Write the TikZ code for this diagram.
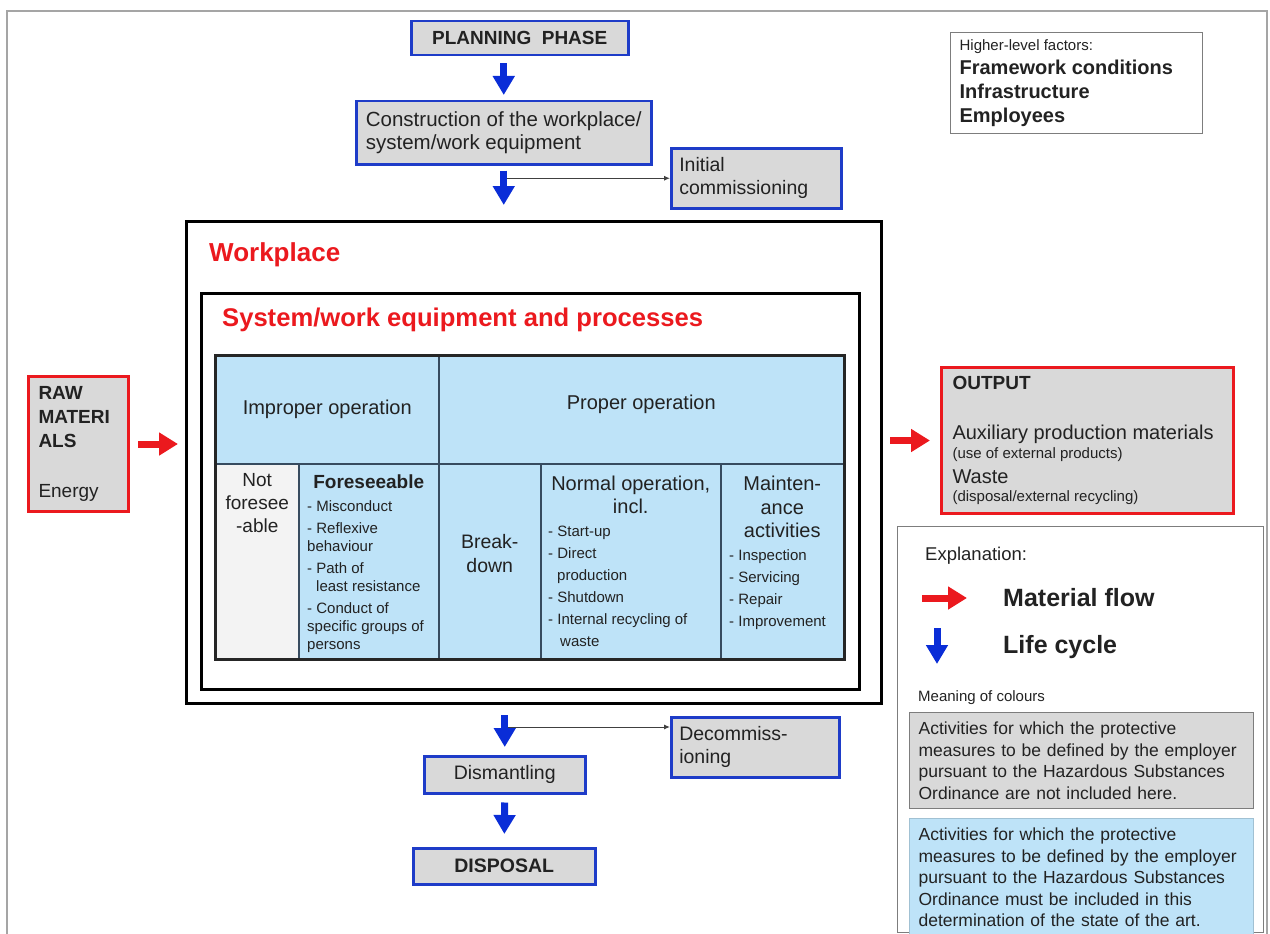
\documentclass[tikz,border=0pt]{standalone}
\usepackage{fontspec}
\setmainfont{Liberation Sans}
\usetikzlibrary{arrows.meta,calc}
\definecolor{lcblue}{RGB}{30,60,200}
\definecolor{arrblue}{RGB}{10,45,215}
\definecolor{boxgray}{RGB}{217,217,217}
\definecolor{cellblue}{RGB}{190,227,248}
\definecolor{cellgray}{RGB}{243,243,243}
\definecolor{flowred}{RGB}{235,25,30}
\definecolor{txt}{RGB}{34,34,34}
\definecolor{gridline}{RGB}{55,75,95}
\definecolor{framegray}{RGB}{165,165,165}
\definecolor{boxline}{RGB}{125,125,125}
\newcommand{\fsz}[2]{\fontsize{#1}{#2}\selectfont}

\begin{document}
\begin{tikzpicture}[x=1pt,y=-1pt,
  every node/.append style={text=txt},
  phase/.style={draw=lcblue, line width=2.5pt, fill=boxgray, inner sep=0pt, anchor=north west},
  stock/.style={draw=flowred, line width=3pt, fill=boxgray, inner sep=0pt, anchor=north west},
  framebox/.style={draw=black, line width=3pt, anchor=north west, inner sep=0pt},
  cell/.style={draw=gridline, line width=1.5pt, fill=cellblue, anchor=north west, inner sep=0pt},
  life/.style={draw=arrblue, line width=7pt, -{Triangle[width=21pt,length=19pt]}},
  flow/.style={draw=flowred, line width=7pt, -{Triangle[width=22pt,length=19pt]}},
  branch/.style={draw=black!75, line width=1pt, -{Latex[length=6pt,width=5pt]}},
  plain/.style={inner sep=0pt},
  keybox/.style={line width=1.2pt, anchor=north west, minimum width=344pt, inner xsep=9pt, inner ysep=0pt, text width=326pt, align=left, font=\fsz{17.5}{21.5}},
]
\useasboundingbox (0,0) rectangle (1270,934);
\clip (0,0) rectangle (1270,934);

% outer frame
\draw[framegray, line width=1.5pt] (7,11) rectangle (1267,960);

% life cycle: planning and construction
\node[phase, minimum width=217pt, minimum height=34pt, font=\bfseries\fsz{19}{23}] (plan) at (410,20) {PLANNING\hspace{0.55em}PHASE};
\node[phase, minimum width=295pt, minimum height=63pt, align=left, font=\fsz{20.5}{23}] (cons) at (355,100) {Construction of the workplace/\\system/work equipment};
\node[phase, minimum width=170pt, minimum height=60pt, text width=154pt, inner xsep=8pt, align=left, font=\fsz{19.5}{23}] (init) at (670,147) {Initial\\commissioning};

% higher-level factors
\node[draw=boxline, line width=1.2pt, anchor=north west, minimum width=252pt, minimum height=101pt, inner sep=0pt] (hlf) at (950,32)
  {\parbox{234pt}{\fsz{15}{16}Higher-level factors:\par\fsz{20}{24}\bfseries Framework conditions\par Infrastructure\par Employees}};

% workplace and system frames
\node[framebox, minimum width=695pt, minimum height=482pt] (wp) at (185,220) {};
\node[plain, anchor=west, text=flowred, font=\bfseries\fsz{26}{30}] (wptitle) at (209,255) {Workplace};
\node[framebox, minimum width=658pt, minimum height=396pt] (sys) at (200,292) {};
\node[plain, anchor=west, text=flowred, font=\bfseries\fsz{25.6}{30}] (systitle) at (222,320) {System/work equipment and processes};

% operation table
\node[cell, minimum width=223pt, minimum height=108pt, font=\fsz{20}{23}] (h1) at (215,355) {Improper operation};
\node[cell, minimum width=405pt, minimum height=108pt] (h2) at (438,355) {};
\node[plain, font=\fsz{20}{23}] (h2t) at ($(h2.center)+(0,-5)$) {Proper operation};
\node[cell, fill=cellgray, minimum width=83pt, minimum height=195pt] (c1) at (215,463) {};
\node[cell, minimum width=140pt, minimum height=195pt] (c2) at (298,463) {};
\node[cell, minimum width=102pt, minimum height=195pt] (c3) at (438,463) {};
\node[cell, minimum width=180pt, minimum height=195pt] (c4) at (540,463) {};
\node[cell, minimum width=123pt, minimum height=195pt] (c5) at (720,463) {};
\draw[line width=3pt, draw=black!85] (h1.north west) rectangle (c5.south east);

\node[plain, anchor=north, align=center, font=\fsz{19}{23}] (t1) at ($(c1.north)+(0,10)$) {Not\\foresee\\-able};
\node[plain, anchor=north, font=\bfseries\fsz{19}{23}] (t2) at ($(c2.north)+(0,12)$) {Foreseeable};
\node[plain, anchor=north west, align=left, font=\fsz{15}{18}] (l2) at (307,500)
  {- Misconduct\\[4pt]- Reflexive\\behaviour\\[4pt]- Path of\\\hspace{9pt}least resistance\\[4pt]- Conduct of\\specific groups of\\persons};
\node[plain, align=center, font=\fsz{19.5}{24}] (t3) at ($(c3.center)+(0,-8)$) {Break-\\down};
\node[plain, anchor=north, align=center, font=\fsz{20}{23}] (t4) at ($(c4.north)+(0,13)$) {Normal operation,\\incl.};
\node[plain, anchor=north west, align=left, font=\fsz{15}{22}] (l4) at (548,526)
  {- Start-up\\- Direct\\\hspace{9pt}production\\- Shutdown\\- Internal recycling of\\\hspace{12pt}waste};
\node[plain, anchor=north, align=center, font=\fsz{20}{23.5}] (t5) at ($(c5.north)+(0,13)$) {Mainten-\\ance\\activities};
\node[plain, anchor=north west, align=left, font=\fsz{15}{22}] (l5) at (729,549)
  {- Inspection\\- Servicing\\- Repair\\- Improvement};

% material input and output
\node[stock, minimum width=100pt, minimum height=135pt] (raw) at (27,375)
  {\parbox{80pt}{\fsz{19}{24}\bfseries RAW\par MATERI\par ALS\par\mdseries\vspace{26pt}Energy}};
\node[stock, minimum width=292pt, minimum height=146pt] (out) at (940,366)
  {\parbox{270pt}{\fsz{19}{24}\bfseries OUTPUT\par\mdseries\vspace{26pt}\fsz{20}{24}Auxiliary production materials\par
   \fsz{15}{19}(use of external products)\par\fsz{20}{25}Waste\par\fsz{15}{18}(disposal/external recycling)}};
\draw[flow, shorten <=8pt, shorten >=7pt] (raw.east) -- (raw.east -| wp.west);
\draw[flow, shorten <=7pt, shorten >=10pt] (out.west -| wp.east) -- (out.west);

% life cycle: end of use
\node[phase, minimum width=168pt, minimum height=60pt, text width=152pt, inner xsep=8pt, align=left, font=\fsz{19.5}{23}] (decom) at (670,716) {Decommiss-\\ioning};
\node[phase, minimum width=161pt, minimum height=37pt, font=\fsz{19.5}{23}] (dism) at (423,755) {Dismantling};
\node[phase, minimum width=182pt, minimum height=36pt, font=\bfseries\fsz{19.5}{22}] (disp) at (412,847) {DISPOSAL};

% life cycle arrows
\draw[life, shorten <=7pt, shorten >=5pt] (plan.south -| cons.south) -- (cons.north);
\draw[life, shorten <=5pt, shorten >=15pt] (cons.south) -- (cons.south |- wp.north);
\draw[life, shorten <=10pt, shorten >=8pt] (dism.north |- wp.south) -- (dism.north);
\draw[life, shorten <=8pt, shorten >=13pt] (dism.south) -- (disp.north);
\coordinate (b1) at ($(cons.south |- init.west)+(3,0)$);
\draw[branch] (b1) -- (init.west);
\coordinate (b2) at ($(dism.north)+(3,-28)$);
\draw[branch] (b2) -- (b2 -| decom.west);

% legend
\node[draw=boxline, line width=1.2pt, anchor=north west, minimum width=366pt, minimum height=406pt, inner sep=0pt] (expl) at (897,526) {};
\node[plain, anchor=west, font=\fsz{18.5}{20}] (expltitle) at (925,556) {Explanation:};
\coordinate (mf0) at (922,598);
\coordinate (mf1) at (967,598);
\draw[flow] (mf0) -- (mf1);
\node[plain, anchor=west, font=\bfseries\fsz{25}{30}] (mflab) at (1003,598) {Material flow};
\coordinate (lc0) at (937,628);
\coordinate (lc1) at (937,664);
\draw[life] (lc0) -- (lc1);
\node[plain, anchor=west, font=\bfseries\fsz{25}{30}] (lclab) at (1003,647) {Life cycle};
\node[plain, anchor=west, font=\fsz{15}{16}] (moc) at (918,698) {Meaning of colours};
\node[keybox, draw=boxline, fill=boxgray, minimum height=96pt] (gkey) at (909,712)
  {Activities for which the protective\\measures to be defined by the employer\\pursuant to the Hazardous Substances\\Ordinance are not included here.};
\node[keybox, draw=cellblue!85!black, fill=cellblue, minimum height=118pt] (bkey) at (909,818)
  {Activities for which the protective\\measures to be defined by the employer\\pursuant to the Hazardous Substances\\Ordinance must be included in this\\determination of the state of the art.};
\end{tikzpicture}
\end{document}
